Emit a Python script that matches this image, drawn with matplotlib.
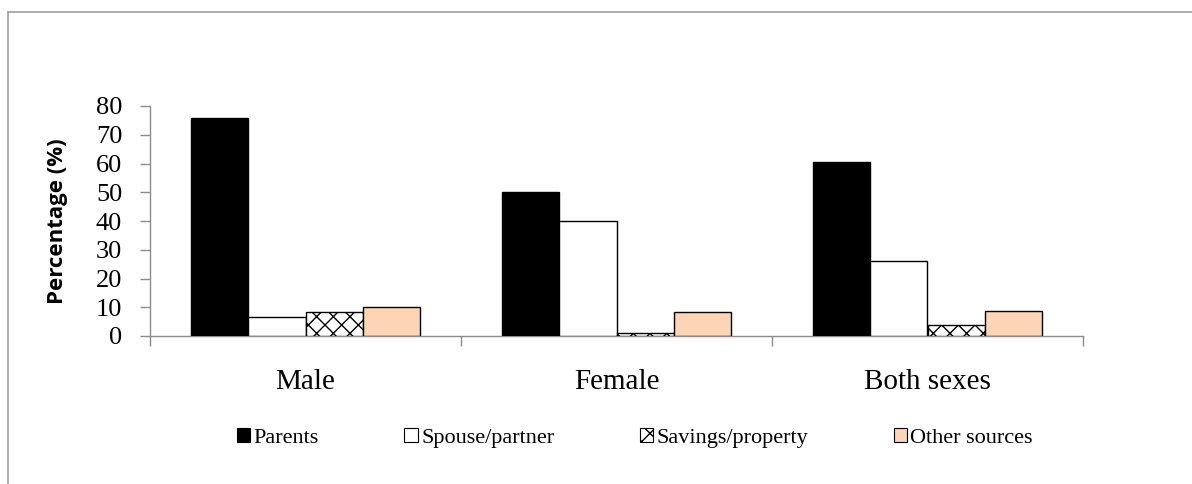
import numpy as np
import matplotlib
matplotlib.use("Agg")
import matplotlib.pyplot as plt
from matplotlib.lines import Line2D
from matplotlib.patches import Patch

groups = ["Male", "Female", "Both sexes"]
sources = ["Parents", "Spouse/partner", "Savings/property", "Other sources"]
parents = [75.8, 50.0, 60.5]
spouse = [6.6, 40.0, 26.2]
savings = [8.3, 1.0, 3.9]
other = [10.0, 8.3, 8.8]
y_ticks = [0, 10, 20, 30, 40, 50, 60, 70, 80]

values = [parents, spouse, savings, other]
faces = ["black", "white", "white", "#FBD5B5"]
hatches = [None, None, "xx", None]

fig = plt.figure(figsize=(11.92, 4.84), dpi=100)
ax = fig.add_axes([150 / 1192, 1 - 336 / 484, 933 / 1192, 230 / 484])

x = np.arange(len(groups))
w = 0.184
for i, vals in enumerate(values):
    ax.bar(x + (i - 1.5) * w, vals, w, color=faces[i], edgecolor="black",
           linewidth=1.0, hatch=hatches[i], zorder=3)

grey = "#8c8c8c"
ax.set_xlim(-0.5, 2.5)
ax.set_ylim(0, 80)
ax.set_yticks(y_ticks)
ax.set_yticklabels([str(t) for t in y_ticks], fontfamily="Liberation Serif", fontsize=19)
ax.tick_params(axis="y", direction="out", length=7, width=1, color=grey, pad=13)

# group boundaries as major ticks, names as minor ticks
ax.set_xticks([-0.5, 0.5, 1.5, 2.5])
ax.set_xticklabels([])
ax.set_xticks(x, minor=True)
ax.set_xticklabels(groups, minor=True, fontfamily="Liberation Serif", fontsize=21)
ax.tick_params(axis="x", which="major", direction="out", length=7, width=1, color=grey)
ax.tick_params(axis="x", which="minor", length=0, pad=24)

for s in ["top", "right"]:
    ax.spines[s].set_visible(False)
for s in ["left", "bottom"]:
    ax.spines[s].set_color(grey)
    ax.spines[s].set_linewidth(1)

ax.set_ylabel("Percentage (%)", fontfamily="Open Sans", fontweight="bold", fontsize=16)
ax.yaxis.set_label_coords(-0.088, 0.5)

handles = [Patch(facecolor=faces[i], edgecolor="black", hatch=hatches[i], linewidth=0.8)
           for i in range(4)]
fig.legend(handles, sources, loc="center", bbox_to_anchor=(635 / 1192, 1 - 438 / 484),
           ncol=4, frameon=False, prop={"family": "Liberation Serif", "size": 16},
           handlelength=0.6, handleheight=0.6, handletextpad=0.15, columnspacing=3.85)

# outer frame (top and left edges only visible)
fig.add_artist(Line2D([8 / 1192, 1], [1 - 12 / 484, 1 - 12 / 484], color="#a0a0a0", lw=1.2,
                      transform=fig.transFigure))
fig.add_artist(Line2D([8 / 1192, 8 / 1192], [0, 1 - 12 / 484], color="#a0a0a0", lw=1.2,
                      transform=fig.transFigure))

fig.savefig("out.png", dpi=100)
